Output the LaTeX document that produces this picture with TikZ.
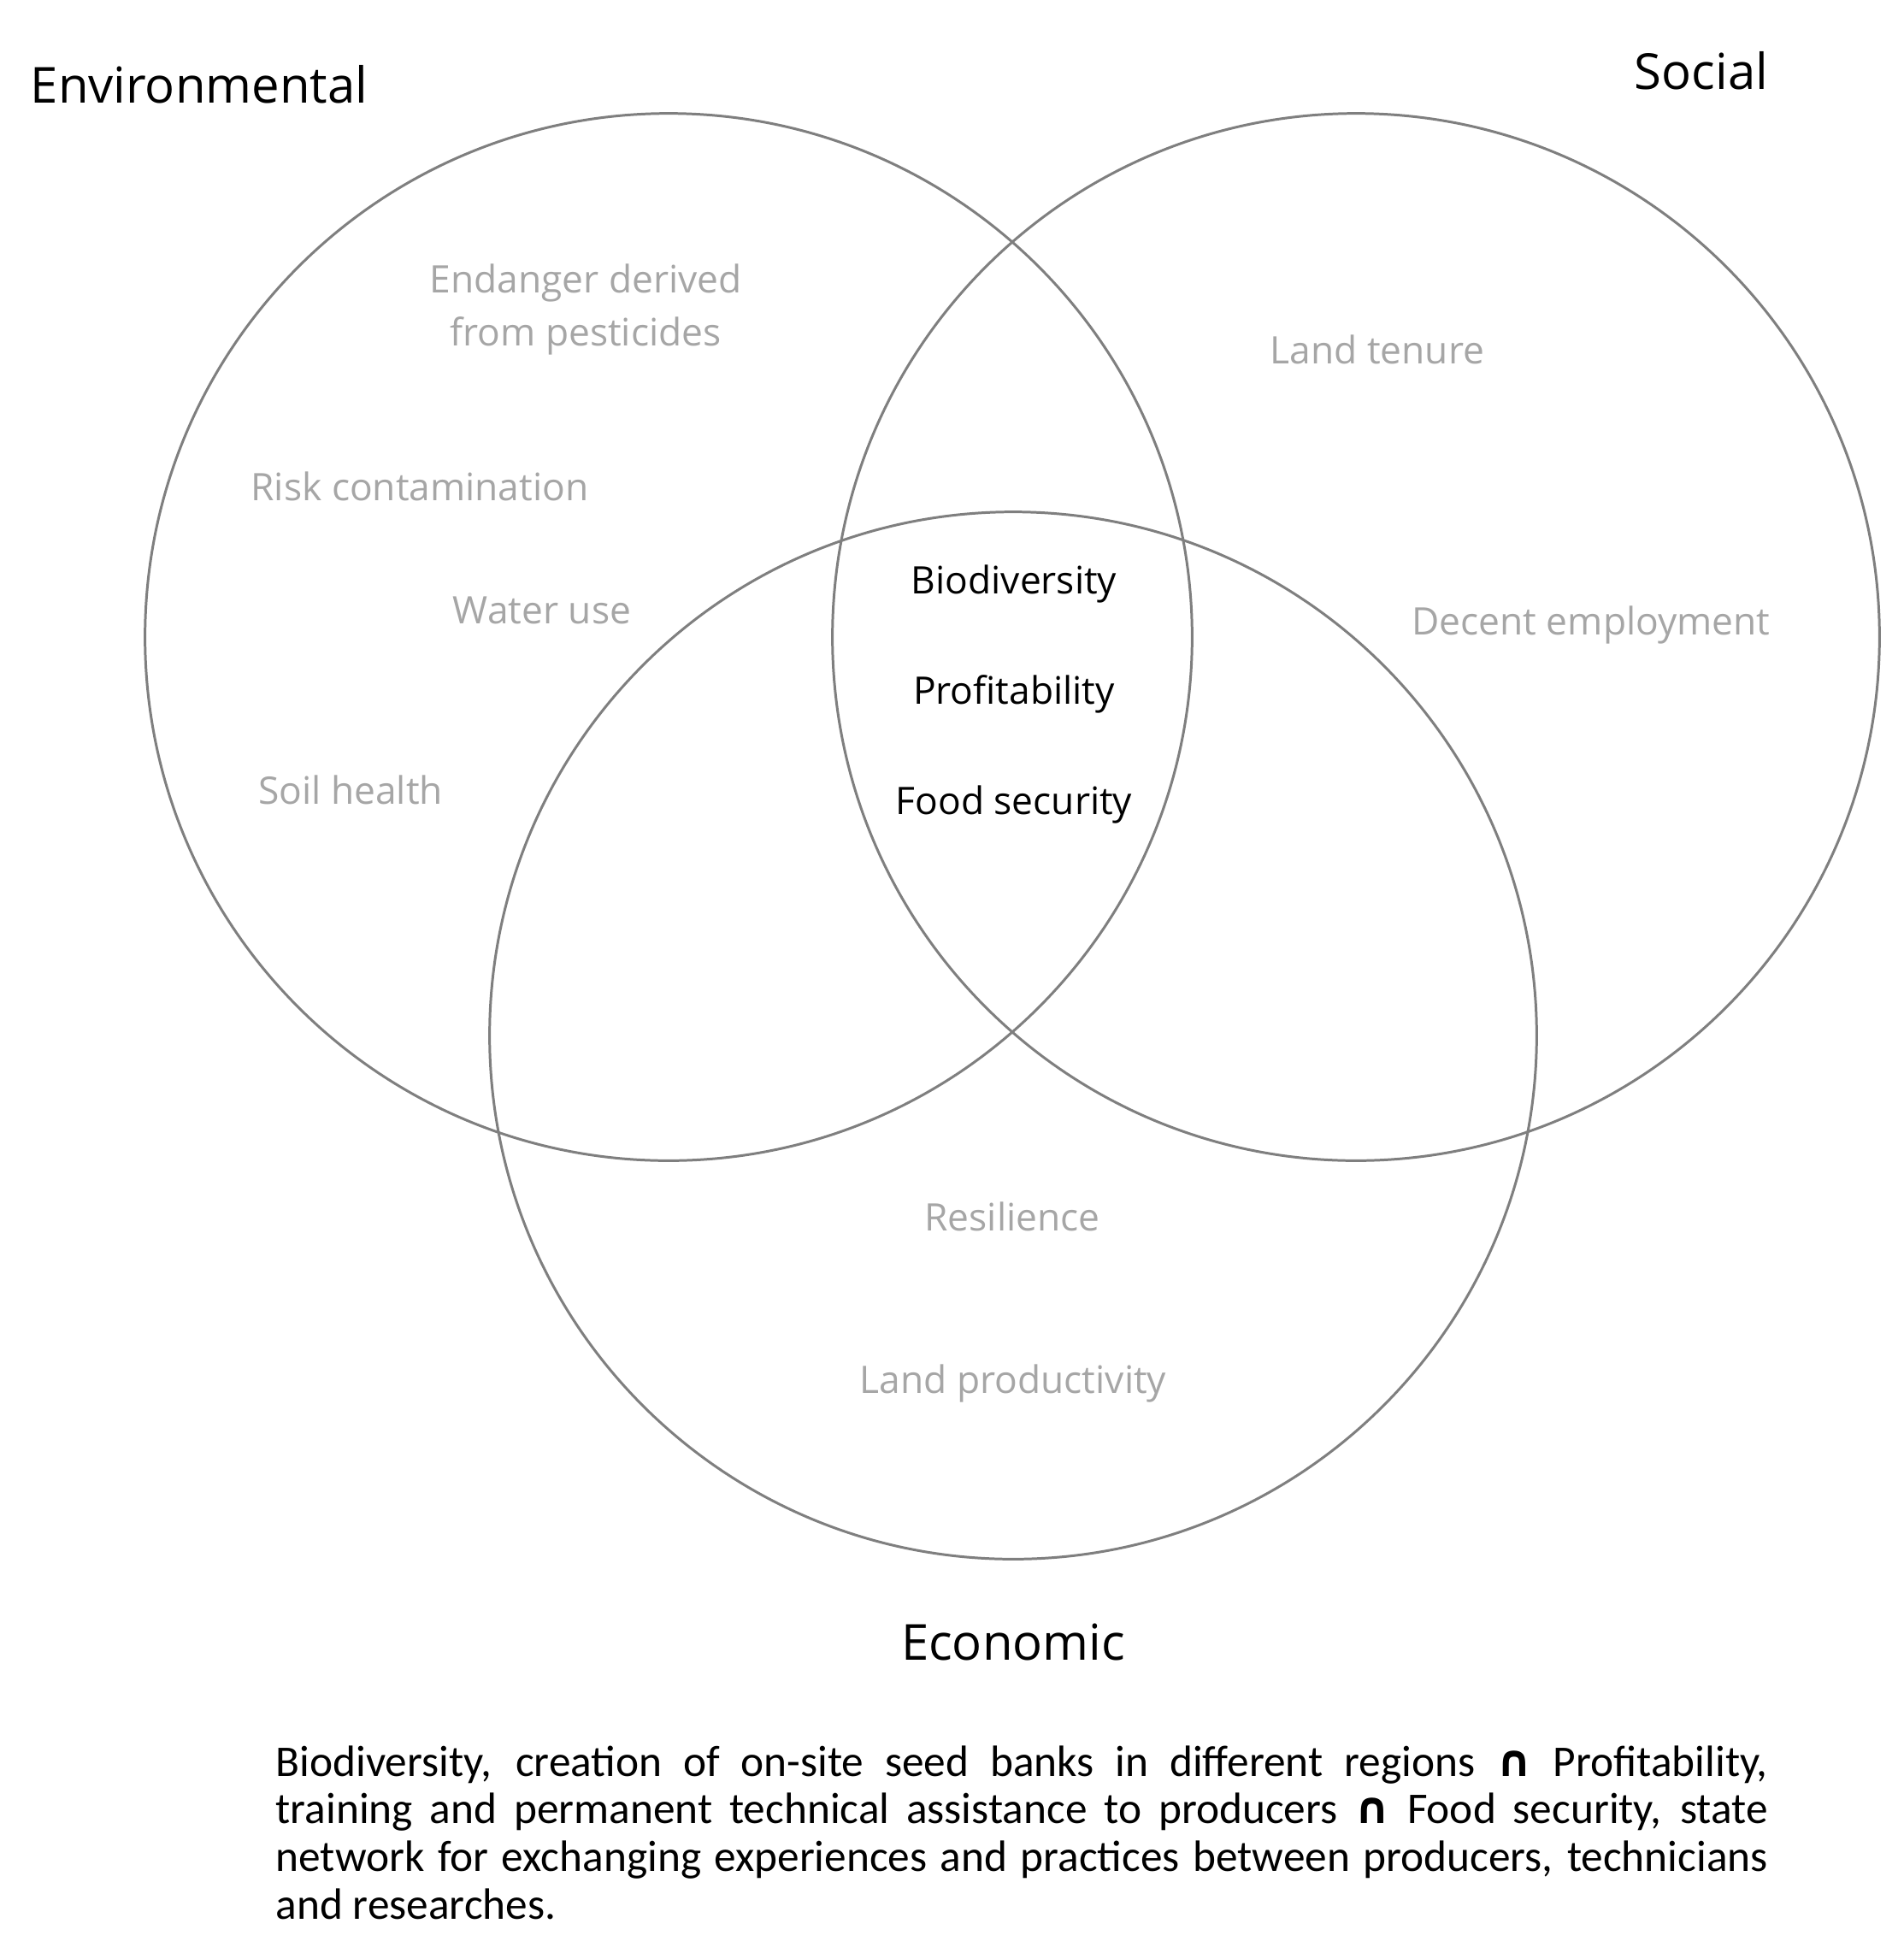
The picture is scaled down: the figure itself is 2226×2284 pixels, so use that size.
\documentclass[tikz,border=0pt]{standalone}
\usepackage{fontspec}
\setmainfont{Open Sans}
\newfontfamily\capfont{Carlito}
\newfontfamily\symfnt{DejaVu Sans}
\definecolor{ringgray}{HTML}{7F7F7F}
\definecolor{labgray}{HTML}{A6A6A6}
\newcommand{\capint}{{\symfnt\bfseries ∩}}
\begin{document}
\begin{tikzpicture}[x=0.01cm,y=-0.01cm,
  ring/.style={circle, draw=ringgray, line width=0.85pt, minimum size=12.24cm, inner sep=0},
  title/.style={font=\fontsize{16.5}{20}\selectfont, text=black, inner sep=0},
  lab/.style={font=\fontsize{12.6}{15}\selectfont, text=labgray, inner sep=0, align=center},
  core/.style={font=\fontsize{12.6}{15}\selectfont, text=black, inner sep=0}]
\useasboundingbox[fill=white] (0,0) rectangle (2226,2284);
% circles
\node[ring] (envc) at (782,745) {};
\node[ring] (socc) at (1586,745) {};
\node[ring] (ecoc) at (1185,1211) {};
% titles
\node[title] (envt) at (233,99) {Environmental};
\node[title] (soct) at (1990,83) {Social};
\node[title] (ecot) at (1185,1920) {Economic};
% environmental
\node[lab] (endanger) at (685,362) {Endanger derived\\[0.1cm]from pesticides};
\node[lab] (risk) at (491,569) {Risk contamination};
\node[lab] (water) at (634,714) {Water use};
\node[lab] (soil) at (410,924) {Soil health};
% social
\node[lab] (tenure) at (1611,409) {Land tenure};
\node[lab] (decent) at (1861,731) {Decent employment};
% economic
\node[lab] (resil) at (1184,1423) {Resilience};
\node[lab] (prod) at (1185,1618) {Land productivity};
% center
\node[core] (bio) at (1186,683) {Biodiversity};
\node[core] (profit) at (1186,812) {Profitability};
\node[core] (food) at (1186,941) {Food security};
% caption
\node[anchor=north west, inner sep=0, text width=17.44cm, align=justify,
  font=\capfont\fontsize{14.6}{15.8}\selectfont] (caption) at (322,2041)
  {Biodiversity, creation of on-site seed banks in different regions \capint{} Profitability,\linebreak
   training and permanent technical assistance to producers \capint{} Food security, state\linebreak
   network for exchanging experiences and practices between producers, technicians\linebreak
   and researches.};
\end{tikzpicture}
\end{document}
